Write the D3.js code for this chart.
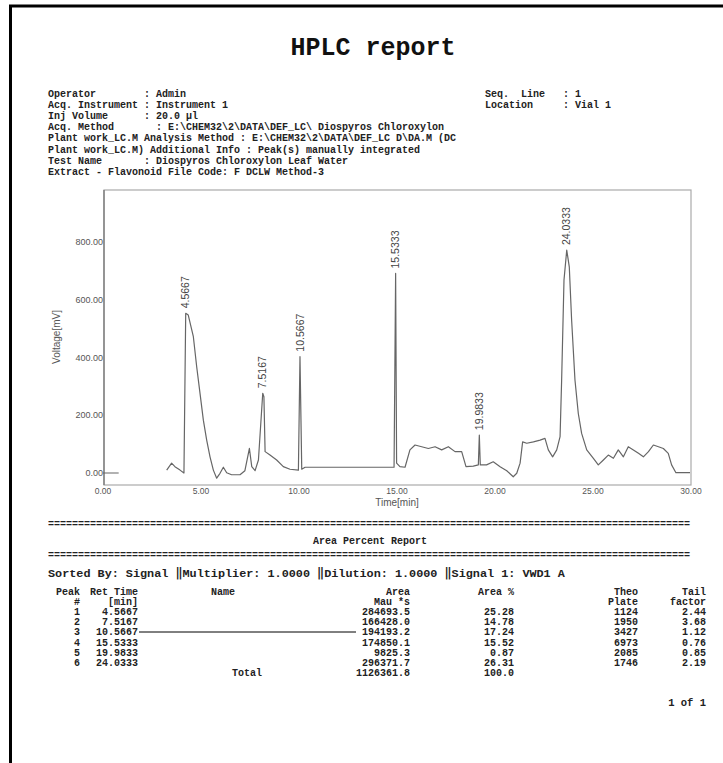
<!DOCTYPE html>
<html lang="en">
<head>
    <meta charset="UTF-8">
    <title>HPLC report</title>
    <script src="https://cdn.jsdelivr.net/npm/d3@7"></script>
    <style>
        body { margin:0; background:#fff; }
        .mono { font-family:"Liberation Mono","Courier New",monospace; font-weight:bold; fill:#222; white-space:pre; }
        .ax { font-family:"Liberation Sans",Arial,sans-serif; fill:#555; }
    </style>
</head>
<body>
<svg width="723" height="763"></svg>
<script>
    // header lines
    var headerLeft = [
        "Operator        : Admin",
        "Acq. Instrument : Instrument 1",
        "Inj Volume      : 20.0 \u00b5l",
        "Acq. Method       : E:\\CHEM32\\2\\DATA\\DEF_LC\\ Diospyros Chloroxylon",
        "Plant work_LC.M Analysis Method : E:\\CHEM32\\2\\DATA\\DEF_LC D\\DA.M (DC",
        "Plant work_LC.M) Additional Info : Peak(s) manually integrated",
        "Test Name       : Diospyros Chloroxylon Leaf Water",
        "Extract - Flavonoid File Code: F DCLW Method-3"
    ];
    var headerRight = ["Seq.  Line   : 1", "Location     : Vial 1"];

    // chromatogram trace (time in min, voltage in mV), null = gap
    var sigTime = [0, 0.8, 1.0, 3.25, 3.5, 3.67, 3.93, 4.13, 4.22, 4.35, 4.61, 4.78, 4.95, 5.12, 5.29, 5.46, 5.63, 5.80, 5.97, 6.14, 6.31, 6.56, 6.99,
        7.24, 7.47, 7.59, 7.76, 7.93, 8.15, 8.21, 8.27, 8.52, 8.86, 9.20, 9.54, 9.97, 10.05, 10.14, 10.31, 14.85, 14.93, 14.98, 15.15, 15.41,
        15.66, 15.92, 16.26, 16.60, 16.94, 17.28, 17.62, 17.96, 18.30, 18.52, 18.89, 19.15, 19.20, 19.25, 19.57, 19.91, 20.26, 20.60, 20.93,
        21.11, 21.28, 21.41, 21.62, 21.96, 22.30, 22.55, 22.72, 22.94, 23.15, 23.32, 23.40, 23.52, 23.66, 23.79, 23.91, 24.08, 24.25, 24.42,
        24.68, 25.02, 25.27, 25.53, 25.78, 26.04, 26.29, 26.55, 26.80, 27.06, 27.32, 27.57, 27.83, 28.08, 28.34, 28.59, 28.84, 29.01, 29.23, 29.95];
    var sigValue = [0, 0, null, 10, 34, 22, 10, 0, 553, 547, 472, 368, 276, 183, 114, 56, 10, -18, -1, 20, 1, -6, -6,
        8, 85, 22, 8, 45, 276, 264, 74, 62, 45, 22, 13, 10, 403, 13, 20, 20, 691, 34, 22, 20,
        80, 97, 91, 85, 91, 80, 91, 74, 74, 22, 24, 28, 131, 28, 28, 39, 22, 8, -13,
        -1, 34, 108, 103, 108, 114, 120, 80, 56, 80, 126, 322, 668, 772, 714, 529, 322, 206, 137,
        80, 51, 28, 45, 62, 51, 80, 56, 91, 80, 68, 56, 74, 97, 91, 85, 68, 28, 1, 1];

    // peak labels and where they sit on the trace
    var peakLabel = ["4.5667", "7.5167", "10.5667", "15.5333", "19.9833", "24.0333"];
    var peakTime = [4.22, 8.15, 10.05, 14.93, 19.20, 23.66];
    var peakHeight = [553, 276, 403, 691, 131, 772];

    var xTicks = [0, 5, 10, 15, 20, 25, 30];
    var yTicks = [0, 200, 400, 600, 800];

    // area percent table
    var peakNo = [1, 2, 3, 4, 5, 6];
    var retTime = ["4.5667", "7.5167", "10.5667", "15.5333", "19.9833", "24.0333"];
    var area = [284693.5, 166428.0, 194193.2, 174850.1, 9825.3, 296371.7];
    var areaPct = [25.28, 14.78, 17.24, 15.52, 0.87, 26.31];
    var theoPlate = [1124, 1950, 3427, 6973, 2085, 1746];
    var tailFactor = [2.44, 3.68, 1.12, 0.76, 0.85, 2.19];

    var svg = d3.select("svg");
    svg.append("rect").attr("width", 723).attr("height", 763).attr("fill", "#fff");

    // page border (left + top)
    svg.append("path").attr("d", "M10.5,763 L10.5,6 L723,6")
        .attr("fill", "none").attr("stroke", "#000").attr("stroke-width", 3);

    svg.append("text").attr("class", "mono")
        .attr("x", 373).attr("y", 55).attr("text-anchor", "middle")
        .style("font-size", "25px").style("fill", "#111")
        .text("HPLC report");

    svg.append("g").selectAll("text").data(headerLeft).enter().append("text")
        .attr("class", "mono").style("font-size", "10px")
        .attr("x", 48).attr("y", (d, i) => 97 + i * 11.1)
        .text(d => d);
    svg.append("g").selectAll("text").data(headerRight).enter().append("text")
        .attr("class", "mono").style("font-size", "10px")
        .attr("x", 485).attr("y", (d, i) => 97 + i * 11.1)
        .text(d => d);

    // chart
    var x = d3.scaleLinear().domain([0, 30]).range([103, 691]);
    var y = d3.scaleLinear().domain([0, 800]).range([473, 242]);

    var chart = svg.append("g");
    chart.append("rect").attr("x", 104).attr("y", 190).attr("width", 587).attr("height", 295)
        .attr("fill", "none").attr("stroke", "#aaa").attr("stroke-width", 1.2);
    chart.append("line").attr("x1", 104).attr("x2", 104).attr("y1", 190).attr("y2", 485)
        .attr("stroke", "#777").attr("stroke-width", 1.3);

    chart.append("g").selectAll("text").data(xTicks).enter().append("text")
        .attr("class", "ax").style("font-size", "8.5px")
        .attr("x", d => x(d)).attr("y", 494).attr("text-anchor", "middle")
        .text(d => d.toFixed(2));
    chart.append("g").selectAll("text").data(yTicks).enter().append("text")
        .attr("class", "ax").style("font-size", "9px")
        .attr("x", 103).attr("y", d => y(d) + 3).attr("text-anchor", "end")
        .text(d => d.toFixed(2));

    chart.append("text").attr("class", "ax").style("font-size", "10px")
        .attr("x", 397).attr("y", 506).attr("text-anchor", "middle").text("Time[min]");
    chart.append("text").attr("class", "ax").style("font-size", "10px")
        .attr("transform", "translate(60,337) rotate(-90)").attr("text-anchor", "middle")
        .text("Voltage[mV]");

    var pts = sigTime.map((t, i) => [t, sigValue[i]]);
    var line = d3.line().defined(d => d[1] !== null).x(d => x(d[0])).y(d => y(d[1]));
    chart.append("path").datum(pts).attr("d", line)
        .attr("fill", "none").attr("stroke", "#666").attr("stroke-width", 1.2)
        .attr("stroke-linejoin", "round");

    chart.append("g").selectAll("text").data(peakLabel).enter().append("text")
        .attr("class", "ax").style("font-size", "10.5px").style("fill", "#444")
        .attr("transform", (d, i) => "translate(" + x(peakTime[i]) + "," + (y(peakHeight[i]) - 5) + ") rotate(-90)")
        .attr("dy", "0.35em")
        .text(d => d);

    // area percent report
    var eq = "=".repeat(107);
    svg.append("text").attr("class", "mono").style("font-size", "10px")
        .attr("x", 48).attr("y", 527).text(eq);
    svg.append("text").attr("class", "mono").style("font-size", "10px")
        .attr("x", 48).attr("y", 558).text(eq);
    svg.append("text").attr("class", "mono").style("font-size", "10px")
        .attr("x", 370).attr("y", 544).attr("text-anchor", "middle").text("Area Percent Report");
    svg.append("text").attr("class", "mono").style("font-size", "11.8px")
        .attr("x", 48).attr("y", 577)
        .text("Sorted By: Signal \u2016Multiplier: 1.0000 \u2016Dilution: 1.0000 \u2016Signal 1: VWD1 A");

    var cols = [
        {h1: "Peak", h2: "#", x: 80, v: i => String(peakNo[i])},
        {h1: "Ret Time", h2: "[min]", x: 138, v: i => retTime[i]},
        {h1: "Area", h2: "Mau *s", x: 410, v: i => area[i].toFixed(1)},
        {h1: "Area %", h2: "", x: 514, v: i => areaPct[i].toFixed(2)},
        {h1: "Theo", h2: "Plate", x: 638, v: i => String(theoPlate[i])},
        {h1: "Tail", h2: "factor", x: 706, v: i => tailFactor[i].toFixed(2)}
    ];
    var tbl = svg.append("g").attr("class", "mono").style("font-size", "10px");
    cols.forEach(function (c) {
        tbl.append("text").attr("x", c.x).attr("y", 595).attr("text-anchor", "end").text(c.h1);
        tbl.append("text").attr("x", c.x).attr("y", 605).attr("text-anchor", "end").text(c.h2);
        peakNo.forEach(function (p, i) {
            tbl.append("text").attr("x", c.x).attr("y", 615 + i * 10.2).attr("text-anchor", "end").text(c.v(i));
        });
    });
    tbl.append("text").attr("x", 211).attr("y", 595).text("Name");
    var total = d3.sum(area);
    var totalPct = d3.sum(areaPct);
    tbl.append("text").attr("x", 232).attr("y", 676).text("Total");
    tbl.append("text").attr("x", 410).attr("y", 676).attr("text-anchor", "end").text(total.toFixed(1));
    tbl.append("text").attr("x", 514).attr("y", 676).attr("text-anchor", "end").text(totalPct.toFixed(1));

    // line drawn across row 3
    svg.append("line").attr("x1", 139).attr("x2", 356).attr("y1", 632).attr("y2", 632)
        .attr("stroke", "#000").attr("stroke-width", 1);

    svg.append("text").attr("class", "mono").style("font-size", "10.5px")
        .attr("x", 706).attr("y", 706).attr("text-anchor", "end").text("1 of 1");
</script>
</body>
</html>
